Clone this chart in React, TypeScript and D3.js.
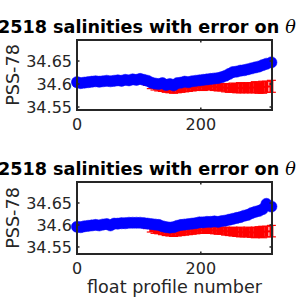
import React from 'react';
import * as d3 from 'd3';

const profiles = [0,6,12,18,24,30,36,42,48,54,60,66,72,78,84,90,96,102,108,114,120,126,132,138,144,150,156,162,168,174,180,186,192,198,204,210,216,222,228,234,240,246,252,258,264,270,276,282,288,294,300,306,314];

const blueTop = [34.604,34.602,34.603,34.604,34.605,34.606,34.605,34.606,34.607,34.606,34.607,34.608,34.607,34.609,34.608,34.610,34.609,34.611,34.609,34.607,34.603,34.601,34.600,34.602,34.598,34.600,34.597,34.602,34.603,34.605,34.604,34.606,34.607,34.608,34.609,34.610,34.611,34.612,34.613,34.615,34.618,34.622,34.626,34.627,34.629,34.630,34.632,34.634,34.636,34.638,34.641,34.644,34.647];
const redTop = [34.602,34.600,34.601,34.602,34.603,34.604,34.603,34.604,34.605,34.604,34.605,34.606,34.605,34.607,34.606,34.607,34.606,34.607,34.605,34.602,34.596,34.594,34.592,34.591,34.589,34.588,34.587,34.588,34.589,34.590,34.591,34.592,34.593,34.594,34.594,34.595,34.595,34.594,34.593,34.593,34.592,34.591,34.592,34.591,34.592,34.591,34.592,34.592,34.593,34.592,34.593,34.594,34.595];
const errTop = [0.004,0.004,0.004,0.004,0.004,0.004,0.004,0.004,0.004,0.004,0.004,0.004,0.004,0.004,0.004,0.004,0.004,0.004,0.004,0.005,0.006,0.007,0.007,0.007,0.007,0.007,0.007,0.007,0.007,0.007,0.007,0.007,0.007,0.007,0.008,0.008,0.007,0.008,0.008,0.008,0.009,0.009,0.010,0.010,0.011,0.010,0.011,0.011,0.012,0.012,0.013,0.012,0.013];

const blueBottom = [34.596,34.595,34.597,34.598,34.599,34.600,34.599,34.601,34.602,34.599,34.603,34.603,34.604,34.604,34.605,34.605,34.605,34.605,34.604,34.603,34.602,34.601,34.600,34.597,34.595,34.594,34.595,34.598,34.600,34.601,34.602,34.603,34.604,34.606,34.606,34.607,34.607,34.608,34.607,34.609,34.610,34.612,34.614,34.616,34.618,34.621,34.623,34.627,34.630,34.632,34.636,34.648,34.642];
const redBottom = [34.594,34.593,34.595,34.596,34.597,34.598,34.597,34.599,34.600,34.597,34.601,34.601,34.602,34.602,34.603,34.603,34.603,34.602,34.600,34.597,34.590,34.588,34.587,34.585,34.583,34.582,34.581,34.582,34.583,34.584,34.585,34.586,34.587,34.588,34.589,34.589,34.588,34.588,34.587,34.587,34.586,34.585,34.585,34.584,34.584,34.583,34.584,34.583,34.583,34.584,34.584,34.585,34.586];
const errBottom = [0.004,0.004,0.004,0.004,0.004,0.004,0.004,0.004,0.004,0.004,0.004,0.004,0.004,0.004,0.004,0.004,0.004,0.004,0.004,0.005,0.006,0.007,0.007,0.007,0.007,0.007,0.007,0.007,0.007,0.007,0.007,0.007,0.007,0.007,0.008,0.008,0.007,0.008,0.008,0.008,0.009,0.009,0.010,0.010,0.011,0.010,0.011,0.011,0.012,0.012,0.013,0.012,0.013];

const yTicks = [34.55, 34.6, 34.65];
const xTicks = [0, 200];
const titleText = '2518 salinities with error on ';
const titleSymbol = 'θ';
const yLabel = 'PSS-78';
const xLabel = 'float profile number';

const FONT = 'DejaVu Sans, sans-serif';
const AX = '#262626';

type PanelProps = {
  top: number; bottom: number; yDomain: [number, number];
  blue: number[]; red: number[]; err: number[]; showXLabel: boolean;
};

function Panel({ top, bottom, yDomain, blue, red, err, showXLabel }: PanelProps) {
  const left = 77, right = 272;
  const x = d3.scaleLinear().domain([0, 315]).range([left, right]);
  const y = d3.scaleLinear().domain(yDomain).range([bottom, top]);
  const redLine = d3.line<number>().x((_, i) => x(profiles[i])).y((d) => y(d))(red) || '';
  const cap = 4.5;
  const tl = 2.5;
  return (
    <g>
      <text x={-2} y={top - 7} fontFamily={FONT} fontWeight="bold" fontSize={17.6} fill="#000">
        {titleText}<tspan fontFamily="DejaVu Serif, serif" fontStyle="italic" fontWeight="normal">{titleSymbol}</tspan>
      </text>
      <rect x={left} y={top} width={right - left} height={bottom - top} fill="#fff" />
      <g stroke="#ff0000">
        {red.map((v, i) => {
          const px = x(profiles[i]);
          return (
            <g key={i}>
              <line x1={px} x2={px} y1={y(v - err[i])} y2={y(v + err[i])} strokeWidth={4} />
              <line x1={px - cap} x2={px + cap} y1={y(v - err[i])} y2={y(v - err[i])} strokeWidth={1.2} />
              <line x1={px - cap} x2={px + cap} y1={y(v + err[i])} y2={y(v + err[i])} strokeWidth={1.2} />
            </g>
          );
        })}
      </g>
      <path d={redLine} fill="none" stroke="#ff0000" strokeWidth={2} />
      {blue.map((v, i) => (
        <circle key={i} cx={x(profiles[i])} cy={y(v)} r={5.6} fill="#0000ff" stroke="#0000ff" strokeWidth={0.5} />
      ))}
      <rect x={left} y={top} width={right - left} height={bottom - top} fill="none" stroke={AX} strokeWidth={2} />
      {yTicks.map((t) => (
        <g key={t}>
          <line x1={left} x2={left + tl} y1={y(t)} y2={y(t)} stroke={AX} strokeWidth={1.5} />
          <line x1={right} x2={right - tl} y1={y(t)} y2={y(t)} stroke={AX} strokeWidth={1.5} />
          <text x={left - 5} y={y(t)} dy="0.36em" textAnchor="end" fontFamily={FONT} fontSize={16} fill={AX}>
            {d3.format('')(t)}
          </text>
        </g>
      ))}
      {xTicks.map((t) => (
        <g key={t}>
          <line x1={x(t)} x2={x(t)} y1={bottom} y2={bottom - tl} stroke={AX} strokeWidth={1.5} />
          <line x1={x(t)} x2={x(t)} y1={top} y2={top + tl} stroke={AX} strokeWidth={1.5} />
          <text x={x(t)} y={bottom + 20} textAnchor="middle" fontFamily={FONT} fontSize={16} fill={AX}>
            {t}
          </text>
        </g>
      ))}
      <text transform={`translate(19,${(top + bottom) / 2}) rotate(-90)`} textAnchor="middle" fontFamily={FONT} fontSize={17.6} fill={AX}>
        {yLabel}
      </text>
      {showXLabel && (
        <text x={(left + right) / 2} y={bottom + 39} textAnchor="middle" fontFamily={FONT} fontSize={17.6} fill={AX}>
          {xLabel}
        </text>
      )}
    </g>
  );
}

export default function App() {
  return (
    <svg width={300} height={300} style={{ position: 'absolute', left: 0, top: 0, background: '#fff' }}>
      <rect width={300} height={300} fill="#fff" />
      <Panel top={40} bottom={110} yDomain={[34.5435, 34.6957]} blue={blueTop} red={redTop} err={errTop} showXLabel={false} />
      <Panel top={182} bottom={254} yDomain={[34.534, 34.6977]} blue={blueBottom} red={redBottom} err={errBottom} showXLabel={true} />
    </svg>
  );
}
